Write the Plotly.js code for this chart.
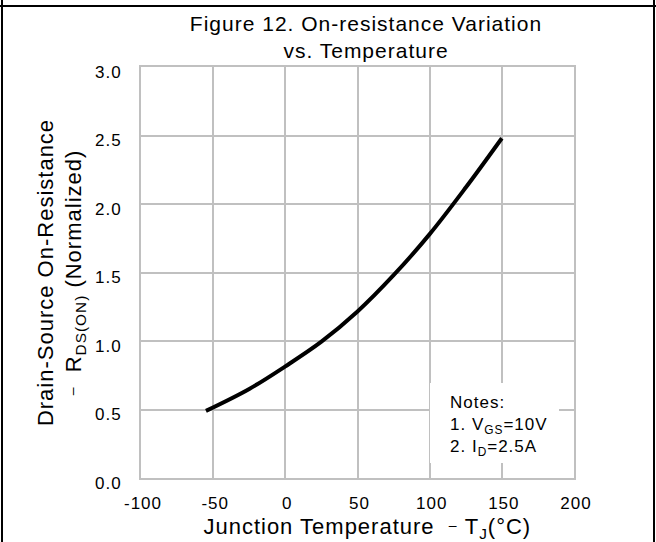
<!DOCTYPE html>
<html>
<head>
<meta charset="utf-8">
<script src="https://cdn.plot.ly/plotly-3.0.1.min.js"></script>
<style>
html,body{margin:0;padding:0;background:#fff;}
#wrap{position:relative;width:656px;height:542px;}
#chart{width:656px;height:542px;}
#chart svg text{letter-spacing:1px;}
.fr{position:absolute;background:#000;pointer-events:none;}
</style>
</head>
<body>
<div id="wrap">
<div id="chart"></div>
<div class="fr" style="left:0;top:5px;width:656px;height:2px;"></div>
<div class="fr" style="left:1px;top:0;width:2px;height:542px;"></div>
<div class="fr" style="left:653px;top:0;width:2px;height:542px;"></div>
</div>
<script>
// Data
var temperature = [-55, -25, 0, 25, 50, 75, 100, 125, 150];
var rdsNormalized = [0.49, 0.65, 0.815, 0.995, 1.215, 1.48, 1.78, 2.12, 2.48];
var xTickVals = [-100, -50, 0, 50, 100, 150, 200];
var xTickText = ['-100', '-50', '0', '50', '100', '150', '200'];
var yTickVals = [0, 0.5, 1.0, 1.5, 2.0, 2.5, 3.0];
var yTickText = ['0.0', '0.5', '1.0', '1.5', '2.0', '2.5', '3.0'];

var FONT = 'Arial, "Liberation Sans", sans-serif';
var GRID = '#c0c0c0';
var DASH = '<span style="font-size:14px;baseline-shift:4px">\u2013</span>';

var trace = {
  x: temperature,
  y: rdsNormalized,
  type: 'scatter',
  mode: 'lines',
  line: {color: '#000', width: 4, shape: 'spline', smoothing: 1},
  hoverinfo: 'skip'
};

var layout = {
  width: 656, height: 542,
  margin: {l: 141, r: 82, t: 67, b: 64, pad: 0},
  paper_bgcolor: '#fff', plot_bgcolor: '#fff',
  showlegend: false,
  font: {family: FONT, color: '#000'},
  title: {
    text: 'Figure 12. On-resistance Variation<br>vs. Temperature',
    font: {family: FONT, size: 21, color: '#000'},
    xref: 'container', yref: 'container',
    x: 366/656, xanchor: 'center',
    y: 1 - 31/542, yanchor: 'top'
  },
  xaxis: {
    range: [-100, 200],
    tickmode: 'array', tickvals: xTickVals, ticktext: xTickText,
    tickfont: {family: FONT, size: 17, color: '#000'},
    ticks: '', ticklabelstandoff: 9, ticklabelshift: 2,
    showgrid: true, gridcolor: GRID, gridwidth: 2,
    zeroline: false,
    showline: true, mirror: true, linecolor: GRID, linewidth: 2,
    fixedrange: true,
    title: {
      text: '\u200b\u00a0\u00a0\u2009Junction Temperature\u00a0\u00a0' + DASH + '\u00a0T<sub>J</sub>(°C)',
      font: {family: FONT, size: 22, color: '#000'},
      standoff: 10
    }
  },
  yaxis: {
    range: [0, 3],
    tickmode: 'array', tickvals: yTickVals, ticktext: yTickText,
    tickfont: {family: FONT, size: 17, color: '#000'},
    ticks: '', ticklabelstandoff: 14, ticklabelshift: 5,
    showgrid: true, gridcolor: GRID, gridwidth: 2,
    zeroline: false,
    showline: true, mirror: true, linecolor: GRID, linewidth: 2,
    fixedrange: true,
    title: {
      text: 'Drain-Source On-Resistance<br>' + DASH + '\u00a0\u00a0R<sub>DS(ON)</sub>\u00a0(Normalized)',
      font: {family: FONT, size: 22, color: '#000'},
      standoff: 10
    }
  },
  shapes: [{
    type: 'rect', layer: 'above',
    xref: 'paper', yref: 'paper',
    x0: (430-141)/433, x1: (559-141)/433,
    y0: (478-463)/411, y1: (478-383)/411,
    fillcolor: '#fff', line: {width: 0}
  }],
  annotations: [{
    xref: 'paper', yref: 'paper',
    x: (448-141)/433, xanchor: 'left',
    y: (478-391)/411, yanchor: 'top',
    align: 'left', showarrow: false,
    text: 'Notes:<br>1. V<sub>GS</sub>=10V<br>2. I<sub>D</sub>=2.5A',
    font: {family: FONT, size: 17, color: '#000'}
  }]
};

Plotly.newPlot('chart', [trace], layout, {displayModeBar: false, staticPlot: true});
</script>
</body>
</html>
